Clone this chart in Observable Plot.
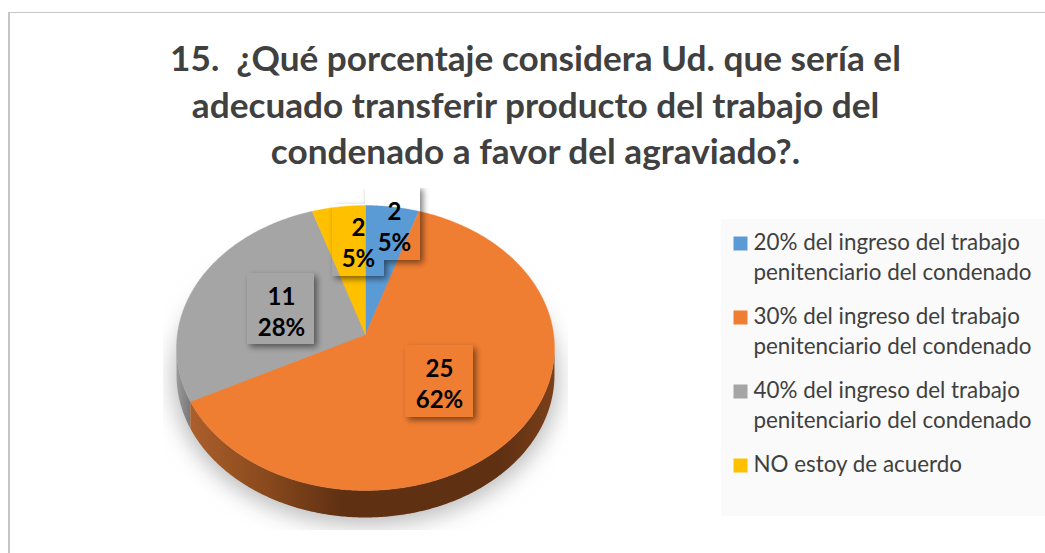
<!DOCTYPE html>
<html>
<head>
<meta charset="utf-8">
<script src="https://cdn.jsdelivr.net/npm/d3@7"></script>
<script src="https://cdn.jsdelivr.net/npm/@observablehq/plot@0.6"></script>
<style>
  html, body { margin: 0; padding: 0; background: #fff; overflow: hidden; }
  #page { position: relative; width: 1045px; height: 553px; }
  #frame { position: absolute; left: 8px; top: 12px; width: 1040px; height: 560px; border: 2px solid #c6c6c6; border-top-width: 1.5px; box-sizing: border-box; pointer-events: none; }
  #title { position: absolute; left: 0; top: 34px; width: 1071px; text-align: center; font: 700 35.2px/46.5px Lato, sans-serif; color: #404040; white-space: pre; margin: 0; }
  #chart { position: absolute; left: 0; top: 185px; }
  svg { display: block; }
</style>
</head>
<body>
<div id="page">
  <div id="frame"></div>
  <h1 id="title"></h1>
  <div id="chart"></div>
</div>
<script>
const titleText = "15.  ¿Qué porcentaje considera Ud. que sería el\nadecuado transferir producto del trabajo del\ncondenado a favor del agraviado?.";
const categories = [
  "20% del ingreso del trabajo\npenitenciario del condenado",
  "30% del ingreso del trabajo\npenitenciario del condenado",
  "40% del ingreso del trabajo\npenitenciario del condenado",
  "NO estoy de acuerdo"
];
const counts = [2, 25, 11, 2];
const percents = ["5%", "62%", "28%", "5%"];
const colors = ["#5B9BD5", "#F07E32", "#A5A5A5", "#FFC000"];

// ---- layout (pixels relative to the apex of the pie) ----
const W = 1045, H = 368, cx = 365, cy = 149;
const A = 188.1, B = 141.2, k = 0.0948, depth = 27;
// label boxes, relative to the apex, y up
const labelBoxes = [
  {x1: 0,   x2: 55,  y1: 74,  y2: 148},
  {x1: 40,  x2: 108, y1: -83, y2: -11},
  {x1: -118,x2: -51, y1: -10, y2: 61},
  {x1: -33, x2: 19,  y1: 58,  y2: 130}
];
const labelPos = [
  {x: 29, y: 109}, {x: 74, y: -48}, {x: -84, y: 24}, {x: -7, y: 93}
];

document.getElementById("title").textContent = titleText;

const project = (theta, drop = 0) => {
  const u = Math.sin(theta), v = Math.cos(theta), w = 1 + k * v;
  return {x: A * u / w, y: B * v / w - drop};
};
const arcPts = (a0, a1, drop = 0) => {
  const n = Math.max(2, Math.ceil(Math.abs(a1 - a0) / 0.01));
  return d3.range(n + 1).map(i => project(a0 + (a1 - a0) * i / n, drop));
};

const arcs = d3.pie().sort(null).value(d => d)(counts);

// top faces
const wedges = arcs.flatMap((a, i) =>
  [{x: 0, y: 0}, ...arcPts(a.startAngle, a.endAngle), {x: 0, y: 0}]
    .map(p => ({...p, cat: categories[i]})));

// visible side wall
const t0 = Math.acos(-k), t1 = 2 * Math.PI - t0;
const walls = arcs.flatMap((a, i) => {
  const s = Math.max(a.startAngle, t0), e = Math.min(a.endAngle, t1);
  if (e <= s) return [];
  return [...arcPts(s, e), ...arcPts(e, s, depth)].map(p => ({...p, i}));
});
const wallOf = i => walls.filter(d => d.i === i);

// soft shadow beneath
const shadow = arcPts(0, 2 * Math.PI, depth + 4);

const rowY = [243, 317, 391, 465].map(py => 334 - py); // swatch centre, relative to apex, y up

const defs = () => {
  const ns = "http://www.w3.org/2000/svg";
  const g = document.createElementNS(ns, "defs");
  g.innerHTML = `
    <linearGradient id="wallOrange" gradientUnits="userSpaceOnUse" x1="${cx - 175}" x2="${cx + 189}" y1="0" y2="0">
      <stop offset="0" stop-color="#ab5f2c"/>
      <stop offset="0.2" stop-color="#8a4a1d"/>
      <stop offset="0.42" stop-color="#5f3012"/>
      <stop offset="0.85" stop-color="#5f3012"/>
      <stop offset="1" stop-color="#7a401a"/>
    </linearGradient>
    <linearGradient id="wallGray" gradientUnits="userSpaceOnUse" x1="${cx - 189}" x2="${cx - 175}" y1="0" y2="0">
      <stop offset="0" stop-color="#9a9a9a"/>
      <stop offset="1" stop-color="#787878"/>
    </linearGradient>
    <filter id="soft" filterUnits="userSpaceOnUse" x="163" y="5" width="404" height="339">
      <feGaussianBlur stdDeviation="11"/>
    </filter>
    <filter id="boxShadow" filterUnits="userSpaceOnUse" x="0" y="0" width="${W}" height="${H}">
      <feGaussianBlur in="SourceAlpha" stdDeviation="3" result="b"/>
      <feOffset in="b" dx="3" dy="3" result="o"/>
      <feComposite in="o" in2="SourceAlpha" operator="out" result="c"/>
      <feComponentTransfer in="c"><feFuncA type="linear" slope="0.5"/></feComponentTransfer>
    </filter>`;
  return g;
};

const chart = Plot.plot({
  width: W,
  height: H,
  margin: 0,
  x: {domain: [-cx, W - cx], range: [0, W], axis: null},
  y: {domain: [-(H - cy), cy], range: [H, 0], axis: null},
  color: {domain: categories, range: colors},
  style: {background: "transparent", overflow: "visible"},
  marks: [
    defs,
    // soft shadow
    Plot.line(shadow, {x: "x", y: "y", fill: "#bdbdbd", stroke: "#bdbdbd", strokeWidth: 8, imageFilter: "url(#soft)"}),
    // side wall
    Plot.line(wallOf(2), {x: "x", y: "y", fill: "url(#wallGray)", stroke: "none"}),
    Plot.line(wallOf(1), {x: "x", y: "y", fill: "url(#wallOrange)", stroke: "none"}),
    // top faces
    Plot.line(wedges, {x: "x", y: "y", z: "cat", fill: "cat", stroke: "cat", strokeWidth: 0.4}),
    // label box shadows
    Plot.rect(labelBoxes, {x1: "x1", x2: "x2", y1: "y1", y2: "y2", fill: "#000", imageFilter: "url(#boxShadow)"}),
    // labels
    Plot.text(counts.map((c, i) => ({t: `${c}\n${percents[i]}`, ...labelPos[i]})), {
      x: "x", y: "y", text: "t", fill: "#000", fontSize: 24, fontWeight: 700,
      fontFamily: "Lato, sans-serif", lineHeight: 1.31, textAnchor: "middle", lineAnchor: "middle"
    }),
    // legend
    Plot.rect([{x1: 721 - cx, x2: 1045 - cx, y1: 334 - 516, y2: 334 - 219}], {x1: "x1", x2: "x2", y1: "y1", y2: "y2", fill: "#fafafa"}),
    Plot.dot(categories.map((c, i) => ({cat: c, y: rowY[i]})), {x: () => 740 - cx, y: "y", symbol: "square", r: 7.9, fill: "cat", stroke: "none"}),
    Plot.text(categories.map((c, i) => ({cat: c, y: rowY[i]})), {
      x: () => 753 - cx, y: "y", text: "cat", textAnchor: "start", lineAnchor: "top", dy: -14,
      fill: "#404040", fontSize: 22.4, fontFamily: "Lato, sans-serif", lineHeight: 1.31
    })
  ]
});
document.getElementById("chart").append(chart);
</script>
</body>
</html>
